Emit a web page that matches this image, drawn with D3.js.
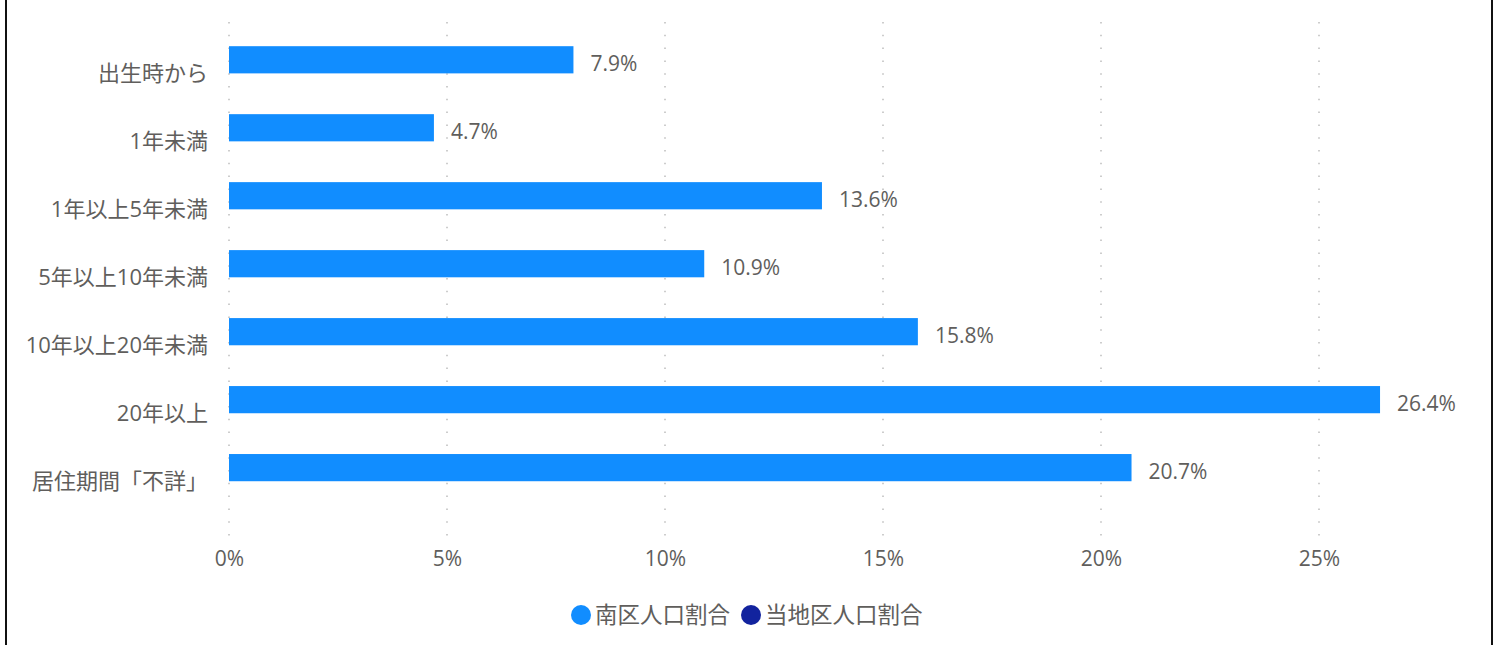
<!DOCTYPE html>
<html>
<head>
<meta charset="utf-8">
<script src="https://cdn.jsdelivr.net/npm/d3@7"></script>
<style>
  body { margin: 0; background: #fff; }
  svg text { font-family: "Open Sans", "Noto Sans CJK JP", sans-serif; fill: #605E5C; }
</style>
</head>
<body>
<div id="chart"></div>
<script>
// data
var categories = ["出生時から", "1年未満", "1年以上5年未満", "5年以上10年未満", "10年以上20年未満", "20年以上", "居住期間「不詳」"];
var seriesNames = ["南区人口割合", "当地区人口割合"];
var minamiValues = [7.9, 4.7, 13.6, 10.9, 15.8, 26.4, 20.7];
var localValues = [null, null, null, null, null, null, null];
var tickValues = [0, 5, 10, 15, 20, 25];
var colors = ["#118DFF", "#12239E"];

var width = 1503,
  height = 645;

var svg = d3.select("#chart").append("svg")
  .attr("width", width)
  .attr("height", height);

// frame lines left / right
svg.append("line").attr("x1", 6).attr("x2", 6).attr("y1", 0).attr("y2", height)
  .attr("stroke", "#111").attr("stroke-width", 2);
svg.append("line").attr("x1", 1492).attr("x2", 1492).attr("y1", 0).attr("y2", height)
  .attr("stroke", "#111").attr("stroke-width", 2);

// scales
var x = d3.scaleLinear()
  .domain([0, 27.5])
  .range([229, 229 + 27.5 * 43.6]);

var y = d3.scaleBand()
  .domain(categories)
  .range([19, 535.6])
  .paddingInner(0.2)
  .paddingOuter(0.4);

var ySub = d3.scaleBand()
  .domain(seriesNames)
  .range([0, y.bandwidth()]);

// dotted grid
svg.append("g")
  .selectAll("line")
  .data(tickValues)
  .enter()
  .append("line")
  .attr("x1", function(d) { return x(d); })
  .attr("x2", function(d) { return x(d); })
  .attr("y1", 22)
  .attr("y2", 536)
  .attr("stroke", "#bdbdbd")
  .attr("stroke-width", 1.5)
  .attr("stroke-dasharray", "1.5,11.3");

// x axis labels
var xAxis = svg.append("g")
  .attr("transform", "translate(0,565.5)")
  .call(d3.axisBottom(x).tickValues(tickValues).tickSize(0).tickPadding(0).tickFormat(function(d) { return d + "%"; }));
xAxis.select(".domain").remove();
xAxis.selectAll("text")
  .attr("y", 0)
  .attr("dy", null)
  .attr("fill", "#605E5C")
  .style("font-size", "21px");

// category labels
var yAxis = svg.append("g")
  .attr("transform", "translate(208,0)")
  .call(d3.axisLeft(y).tickSize(0).tickPadding(0));
yAxis.select(".domain").remove();
yAxis.selectAll("text")
  .attr("dy", "8px")
  .attr("fill", "#605E5C")
  .style("font-size", "22px");

// bars, grouped by series
var series = [minamiValues, localValues];
series.forEach(function(vals, si) {
  var rows = categories.map(function(c, i) { return { cat: c, value: vals[i] }; })
    .filter(function(d) { return d.value != null; });

  var g = svg.append("g");
  g.selectAll("rect")
    .data(rows)
    .enter()
    .append("rect")
    .attr("x", x(0))
    .attr("y", function(d) { return y(d.cat) + ySub(seriesNames[si]); })
    .attr("width", function(d) { return x(d.value) - x(0); })
    .attr("height", ySub.bandwidth())
    .attr("fill", colors[si]);

  g.selectAll("text")
    .data(rows)
    .enter()
    .append("text")
    .attr("x", function(d) { return x(d.value) + 17; })
    .attr("y", function(d) { return y(d.cat) + ySub(seriesNames[si]) + ySub.bandwidth() / 2 + 11; })
    .style("font-size", "21px")
    .text(function(d) { return d.value.toFixed(1) + "%"; });
});

// legend
var legend = svg.append("g");
var lx = 571;
seriesNames.forEach(function(name, i) {
  legend.append("circle")
    .attr("cx", lx + 10)
    .attr("cy", 615)
    .attr("r", 10)
    .attr("fill", colors[i]);
  var t = legend.append("text")
    .attr("x", lx + 24)
    .attr("y", 623)
    .style("font-size", "22.5px")
    .text(name);
  lx = lx + 24 + t.node().getComputedTextLength() + 11;
});
</script>
</body>
</html>
